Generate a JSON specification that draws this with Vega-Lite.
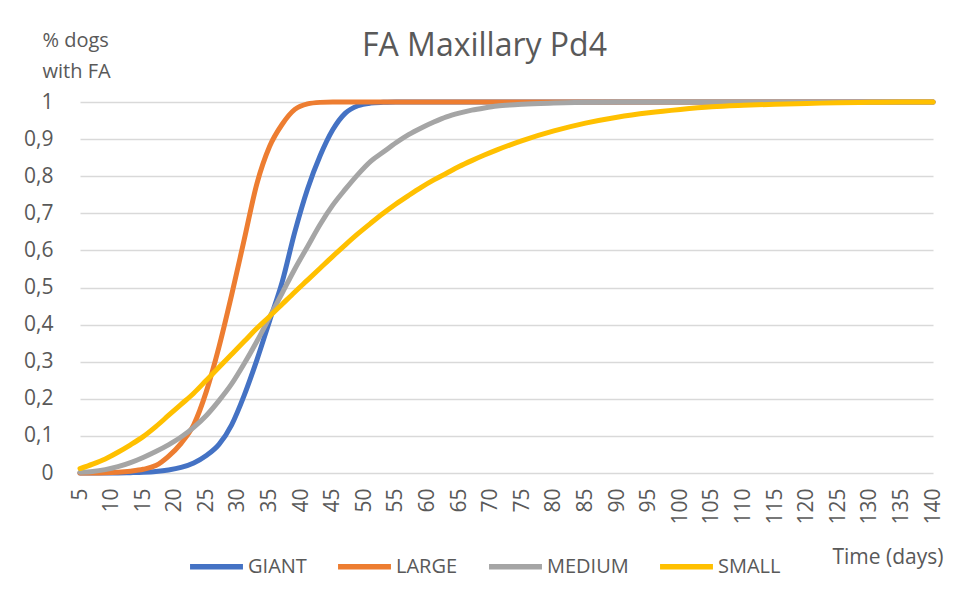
{
  "$schema": "https://vega.github.io/schema/vega-lite/v6.json",
  "width": 853,
  "height": 371,
  "autosize": {"type": "none"},
  "padding": {"left": 80, "top": 102, "right": 27, "bottom": 130},
  "background": "white",
  "title": {
    "text": "FA Maxillary Pd4",
    "font": "Open Sans",
    "fontSize": 32,
    "fontWeight": "normal",
    "color": "#595959",
    "anchor": "middle",
    "frame": "group",
    "dx": -22,
    "dy": 43,
    "offset": 10
  },
  "data": {
    "values": [
      {"day":5,"breed":"GIANT","v":0},{"day":7,"breed":"GIANT","v":0},{"day":9,"breed":"GIANT","v":0},{"day":11,"breed":"GIANT","v":0.0003},{"day":13,"breed":"GIANT","v":0.001},{"day":15,"breed":"GIANT","v":0.002},{"day":17,"breed":"GIANT","v":0.004},{"day":19,"breed":"GIANT","v":0.008},{"day":21,"breed":"GIANT","v":0.015},{"day":23,"breed":"GIANT","v":0.027},{"day":25,"breed":"GIANT","v":0.047},{"day":27,"breed":"GIANT","v":0.077},{"day":29,"breed":"GIANT","v":0.13},{"day":31,"breed":"GIANT","v":0.21},{"day":33,"breed":"GIANT","v":0.305},{"day":35,"breed":"GIANT","v":0.41},{"day":37,"breed":"GIANT","v":0.515},{"day":39,"breed":"GIANT","v":0.65},{"day":41,"breed":"GIANT","v":0.765},{"day":43,"breed":"GIANT","v":0.855},{"day":45,"breed":"GIANT","v":0.925},{"day":47,"breed":"GIANT","v":0.97},{"day":49,"breed":"GIANT","v":0.99},{"day":51,"breed":"GIANT","v":0.997},{"day":53,"breed":"GIANT","v":0.999},{"day":55,"breed":"GIANT","v":1},{"day":57,"breed":"GIANT","v":1},{"day":59,"breed":"GIANT","v":1},{"day":61,"breed":"GIANT","v":1},{"day":63,"breed":"GIANT","v":1},{"day":65,"breed":"GIANT","v":1},{"day":67,"breed":"GIANT","v":1},{"day":69,"breed":"GIANT","v":1},{"day":71,"breed":"GIANT","v":1},{"day":73,"breed":"GIANT","v":1},{"day":75,"breed":"GIANT","v":1},{"day":80,"breed":"GIANT","v":1},{"day":85,"breed":"GIANT","v":1},{"day":90,"breed":"GIANT","v":1},{"day":95,"breed":"GIANT","v":1},{"day":100,"breed":"GIANT","v":1},{"day":105,"breed":"GIANT","v":1},{"day":110,"breed":"GIANT","v":1},{"day":115,"breed":"GIANT","v":1},{"day":120,"breed":"GIANT","v":1},{"day":125,"breed":"GIANT","v":1},{"day":130,"breed":"GIANT","v":1},{"day":135,"breed":"GIANT","v":1},{"day":140,"breed":"GIANT","v":1},
      {"day":5,"breed":"LARGE","v":0},{"day":7,"breed":"LARGE","v":0},{"day":9,"breed":"LARGE","v":0.0005},{"day":11,"breed":"LARGE","v":0.002},{"day":13,"breed":"LARGE","v":0.005},{"day":15,"breed":"LARGE","v":0.01},{"day":17,"breed":"LARGE","v":0.02},{"day":19,"breed":"LARGE","v":0.045},{"day":21,"breed":"LARGE","v":0.08},{"day":23,"breed":"LARGE","v":0.13},{"day":25,"breed":"LARGE","v":0.22},{"day":27,"breed":"LARGE","v":0.34},{"day":29,"breed":"LARGE","v":0.48},{"day":31,"breed":"LARGE","v":0.63},{"day":33,"breed":"LARGE","v":0.78},{"day":35,"breed":"LARGE","v":0.88},{"day":37,"breed":"LARGE","v":0.94},{"day":39,"breed":"LARGE","v":0.98},{"day":41,"breed":"LARGE","v":0.995},{"day":43,"breed":"LARGE","v":0.999},{"day":45,"breed":"LARGE","v":1},{"day":47,"breed":"LARGE","v":1},{"day":49,"breed":"LARGE","v":1},{"day":51,"breed":"LARGE","v":1},{"day":53,"breed":"LARGE","v":1},{"day":55,"breed":"LARGE","v":1},{"day":57,"breed":"LARGE","v":1},{"day":59,"breed":"LARGE","v":1},{"day":61,"breed":"LARGE","v":1},{"day":63,"breed":"LARGE","v":1},{"day":65,"breed":"LARGE","v":1},{"day":67,"breed":"LARGE","v":1},{"day":69,"breed":"LARGE","v":1},{"day":71,"breed":"LARGE","v":1},{"day":73,"breed":"LARGE","v":1},{"day":75,"breed":"LARGE","v":1},{"day":80,"breed":"LARGE","v":1},{"day":85,"breed":"LARGE","v":1},{"day":90,"breed":"LARGE","v":1},{"day":95,"breed":"LARGE","v":1},{"day":100,"breed":"LARGE","v":1},{"day":105,"breed":"LARGE","v":1},{"day":110,"breed":"LARGE","v":1},{"day":115,"breed":"LARGE","v":1},{"day":120,"breed":"LARGE","v":1},{"day":125,"breed":"LARGE","v":1},{"day":130,"breed":"LARGE","v":1},{"day":135,"breed":"LARGE","v":1},{"day":140,"breed":"LARGE","v":1},
      {"day":5,"breed":"MEDIUM","v":0.002},{"day":7,"breed":"MEDIUM","v":0.004},{"day":9,"breed":"MEDIUM","v":0.009},{"day":11,"breed":"MEDIUM","v":0.017},{"day":13,"breed":"MEDIUM","v":0.028},{"day":15,"breed":"MEDIUM","v":0.042},{"day":17,"breed":"MEDIUM","v":0.058},{"day":19,"breed":"MEDIUM","v":0.076},{"day":21,"breed":"MEDIUM","v":0.097},{"day":23,"breed":"MEDIUM","v":0.123},{"day":25,"breed":"MEDIUM","v":0.155},{"day":27,"breed":"MEDIUM","v":0.195},{"day":29,"breed":"MEDIUM","v":0.24},{"day":31,"breed":"MEDIUM","v":0.295},{"day":33,"breed":"MEDIUM","v":0.355},{"day":35,"breed":"MEDIUM","v":0.42},{"day":37,"breed":"MEDIUM","v":0.485},{"day":39,"breed":"MEDIUM","v":0.55},{"day":41,"breed":"MEDIUM","v":0.61},{"day":43,"breed":"MEDIUM","v":0.67},{"day":45,"breed":"MEDIUM","v":0.722},{"day":47,"breed":"MEDIUM","v":0.765},{"day":49,"breed":"MEDIUM","v":0.805},{"day":51,"breed":"MEDIUM","v":0.84},{"day":53,"breed":"MEDIUM","v":0.865},{"day":55,"breed":"MEDIUM","v":0.89},{"day":57,"breed":"MEDIUM","v":0.912},{"day":59,"breed":"MEDIUM","v":0.93},{"day":61,"breed":"MEDIUM","v":0.946},{"day":63,"breed":"MEDIUM","v":0.96},{"day":65,"breed":"MEDIUM","v":0.97},{"day":67,"breed":"MEDIUM","v":0.978},{"day":69,"breed":"MEDIUM","v":0.984},{"day":71,"breed":"MEDIUM","v":0.989},{"day":73,"breed":"MEDIUM","v":0.992},{"day":75,"breed":"MEDIUM","v":0.994},{"day":80,"breed":"MEDIUM","v":0.997},{"day":85,"breed":"MEDIUM","v":0.999},{"day":90,"breed":"MEDIUM","v":1},{"day":95,"breed":"MEDIUM","v":1},{"day":100,"breed":"MEDIUM","v":1},{"day":105,"breed":"MEDIUM","v":1},{"day":110,"breed":"MEDIUM","v":1},{"day":115,"breed":"MEDIUM","v":1},{"day":120,"breed":"MEDIUM","v":1},{"day":125,"breed":"MEDIUM","v":1},{"day":130,"breed":"MEDIUM","v":1},{"day":135,"breed":"MEDIUM","v":1},{"day":140,"breed":"MEDIUM","v":1},
      {"day":5,"breed":"SMALL","v":0.012},{"day":7,"breed":"SMALL","v":0.024},{"day":9,"breed":"SMALL","v":0.038},{"day":11,"breed":"SMALL","v":0.056},{"day":13,"breed":"SMALL","v":0.076},{"day":15,"breed":"SMALL","v":0.098},{"day":17,"breed":"SMALL","v":0.125},{"day":19,"breed":"SMALL","v":0.155},{"day":21,"breed":"SMALL","v":0.185},{"day":23,"breed":"SMALL","v":0.215},{"day":25,"breed":"SMALL","v":0.25},{"day":27,"breed":"SMALL","v":0.285},{"day":29,"breed":"SMALL","v":0.32},{"day":31,"breed":"SMALL","v":0.355},{"day":33,"breed":"SMALL","v":0.39},{"day":35,"breed":"SMALL","v":0.422},{"day":37,"breed":"SMALL","v":0.455},{"day":39,"breed":"SMALL","v":0.488},{"day":41,"breed":"SMALL","v":0.52},{"day":43,"breed":"SMALL","v":0.552},{"day":45,"breed":"SMALL","v":0.584},{"day":47,"breed":"SMALL","v":0.615},{"day":49,"breed":"SMALL","v":0.645},{"day":51,"breed":"SMALL","v":0.673},{"day":53,"breed":"SMALL","v":0.7},{"day":55,"breed":"SMALL","v":0.725},{"day":57,"breed":"SMALL","v":0.748},{"day":59,"breed":"SMALL","v":0.77},{"day":61,"breed":"SMALL","v":0.79},{"day":63,"breed":"SMALL","v":0.808},{"day":65,"breed":"SMALL","v":0.826},{"day":67,"breed":"SMALL","v":0.842},{"day":69,"breed":"SMALL","v":0.857},{"day":71,"breed":"SMALL","v":0.871},{"day":73,"breed":"SMALL","v":0.884},{"day":75,"breed":"SMALL","v":0.896},{"day":80,"breed":"SMALL","v":0.922},{"day":85,"breed":"SMALL","v":0.943},{"day":90,"breed":"SMALL","v":0.959},{"day":95,"breed":"SMALL","v":0.971},{"day":100,"breed":"SMALL","v":0.98},{"day":105,"breed":"SMALL","v":0.987},{"day":110,"breed":"SMALL","v":0.991},{"day":115,"breed":"SMALL","v":0.994},{"day":120,"breed":"SMALL","v":0.996},{"day":125,"breed":"SMALL","v":0.998},{"day":130,"breed":"SMALL","v":0.999},{"day":135,"breed":"SMALL","v":1},{"day":140,"breed":"SMALL","v":1}
    ]
  },
  "mark": {"type": "line", "strokeWidth": 5, "strokeCap": "round", "strokeJoin": "round", "interpolate": "monotone"},
  "encoding": {
    "x": {
      "field": "day",
      "type": "quantitative",
      "scale": {"domain": [5, 140], "nice": false, "zero": false},
      "axis": {
        "values": [5,10,15,20,25,30,35,40,45,50,55,60,65,70,75,80,85,90,95,100,105,110,115,120,125,130,135,140],
        "labelAngle": -90,
        "labelAlign": "right",
        "labelBaseline": "middle",
        "labelPadding": 15,
        "labelFont": "Open Sans",
        "labelFontSize": 21,
        "labelColor": "#595959",
        "labelOverlap": false,
        "labelFlush": false,
        "ticks": false,
        "domain": false,
        "grid": false,
        "title": "Time (days)",
        "titleFont": "Open Sans",
        "titleFontSize": 21,
        "titleFontWeight": "normal",
        "titleColor": "#595959",
        "titleAlign": "right",
        "titleAnchor": null,
        "titleBaseline": "alphabetic",
        "titleX": 863,
        "titleY": 90
      }
    },
    "y": {
      "field": "v",
      "type": "quantitative",
      "scale": {"domain": [0, 1], "nice": false},
      "axis": {
        "values": [0,0.1,0.2,0.3,0.4,0.5,0.6,0.7,0.8,0.9,1],
        "format": ".1~f",
        "labelExpr": "replace(datum.label, '.', ',')",
        "labelFont": "Open Sans",
        "labelFontSize": 21,
        "labelColor": "#595959",
        "labelPadding": 27,
        "ticks": false,
        "domain": false,
        "grid": true,
        "gridColor": "#d9d9d9",
        "gridWidth": 1.5,
        "title": ["% dogs", "with FA"],
        "titleFont": "Open Sans",
        "titleFontSize": 20,
        "titleFontWeight": "normal",
        "titleColor": "#595959",
        "titleAngle": 0,
        "titleAlign": "left",
        "titleAnchor": null,
        "titleBaseline": "alphabetic",
        "titleLineHeight": 31,
        "titleX": -38,
        "titleY": -56
      }
    },
    "color": {
      "field": "breed",
      "type": "nominal",
      "scale": {"domain": ["GIANT", "LARGE", "MEDIUM", "SMALL"], "range": ["#4472C4", "#ED7D31", "#A5A5A5", "#FFC000"]},
      "legend": {
        "title": null,
        "orient": "none",
        "direction": "horizontal",
        "legendX": 107,
        "legendY": 435,
        "symbolType": "stroke",
        "symbolSize": 2800,
        "symbolStrokeWidth": 5.5,
        "labelFont": "Open Sans",
        "labelFontSize": 20,
        "labelColor": "#595959",
        "labelOffset": 2,
        "columnPadding": 20
      }
    }
  },
  "config": {
    "view": {"stroke": null},
    "font": "Open Sans"
  }
}
